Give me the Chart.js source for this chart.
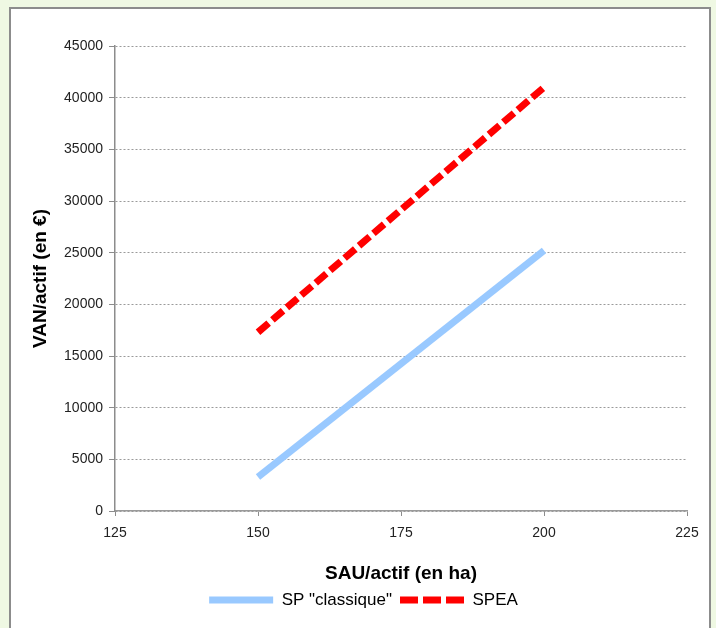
<!DOCTYPE html>
<html>
<head>
<meta charset="utf-8">
<script src="https://cdn.jsdelivr.net/npm/chart.js"></script>
<style>
  html, body { margin: 0; padding: 0; overflow: hidden; background: #eff8e3; }
  #box { position: absolute; left: 0; top: 0; width: 716px; height: 628px; }
</style>
</head>
<body>
<div id="box"><canvas id="myChart" width="716" height="628"></canvas></div>
<script>
// Données
const sau = [150, 200];                 // SAU/actif (en ha)
const spClassique = [3300, 25200];      // VAN/actif SP "classique"
const spea = [17300, 41000];            // VAN/actif SPEA
const xTicks = [125, 150, 175, 200, 225];
const yTicks = [0, 5000, 10000, 15000, 20000, 25000, 30000, 35000, 40000, 45000];

const points = (ys) => sau.map((x, i) => ({ x: x, y: ys[i] }));

// fond vert clair + cadre blanc
const cadre = {
    id: 'cadre',
    beforeDraw(chart) {
        const ctx = chart.ctx;
        ctx.save();
        ctx.fillStyle = '#eff8e3';
        ctx.fillRect(0, 0, chart.width, chart.height);
        ctx.fillStyle = '#ffffff';
        ctx.fillRect(10, 8, 700, 640);
        ctx.strokeStyle = '#8c8c8c';
        ctx.lineWidth = 2;
        ctx.strokeRect(10, 8, 700, 640);
        ctx.restore();
    }
};

const police = "'Liberation Sans', Arial, sans-serif";

const ctx = document.getElementById('myChart').getContext('2d');
new Chart(ctx, {
    type: 'line',
    data: {
        datasets: [{
            label: 'SP "classique"',
            data: points(spClassique),
            borderColor: '#99c9ff',
            backgroundColor: '#99c9ff',
            borderWidth: 7,
            borderCapStyle: 'butt',
            pointRadius: 0,
            pointStyle: 'line'
        }, {
            label: 'SPEA',
            data: points(spea),
            borderColor: '#ff0000',
            backgroundColor: '#ff0000',
            borderWidth: 7,
            borderDash: [14, 5],
            borderCapStyle: 'butt',
            pointRadius: 0,
            pointStyle: 'line'
        }]
    },
    options: {
        responsive: false,
        animation: false,
        layout: { padding: { left: 40, top: 46, right: 29, bottom: 9.5 } },
        plugins: {
            tooltip: { enabled: false },
            legend: {
                position: 'bottom',
                labels: {
                    usePointStyle: true,
                    pointStyleWidth: 64,
                    padding: 8,
                    color: '#000',
                    font: { family: police, size: 17 },
                    // tirets de la légende comme sur l'original
                    generateLabels: (chart) => Chart.defaults.plugins.legend.labels.generateLabels(chart).map((l, i) => {
                        const ds = chart.data.datasets[i];
                        l.lineDash = ds.borderDash ? [18, 5] : [];
                        l.lineWidth = 7;
                        l.strokeStyle = ds.borderColor;
                        l.lineCap = 'butt';
                        return l;
                    })
                }
            }
        },
        scales: {
            x: {
                type: 'linear',
                min: 125,
                max: 225,
                afterBuildTicks: (s) => { s.ticks = xTicks.map(v => ({ value: v })); },
                afterFit: (s) => { s.height = 72.5; },
                ticks: { padding: 9, color: '#222', font: { family: police, size: 14 }, callback: (v) => String(v) },
                grid: { drawOnChartArea: false, tickLength: 5, tickColor: '#8c8c8c', tickWidth: 1 },
                border: { color: '#9a9a9a', width: 1.5 },
                title: {
                    display: true,
                    text: 'SAU/actif (en ha)',
                    color: '#000',
                    padding: { top: 0, bottom: -2 },
                    font: { family: police, size: 19, weight: 'bold' }
                }
            },
            y: {
                min: 0,
                max: 45000,
                afterBuildTicks: (s) => { s.ticks = yTicks.map(v => ({ value: v })); },
                afterFit: (s) => { s.width = 75; },
                ticks: { padding: 6, color: '#222', font: { family: police, size: 14 }, callback: (v) => String(v) },
                grid: {
                    color: '#9a9a9a',
                    lineWidth: 1,
                    tickLength: 6,
                    tickColor: '#8c8c8c',
                    tickBorderDash: []
                },
                border: { color: '#8c8c8c', width: 1.5, dash: [2, 2] },
                title: {
                    display: true,
                    text: 'VAN/actif (en €)',
                    color: '#000',
                    padding: { top: -11, bottom: 0 },
                    font: { family: police, size: 19, weight: 'bold' }
                }
            }
        }
    },
    plugins: [cadre]
});
</script>
</body>
</html>
